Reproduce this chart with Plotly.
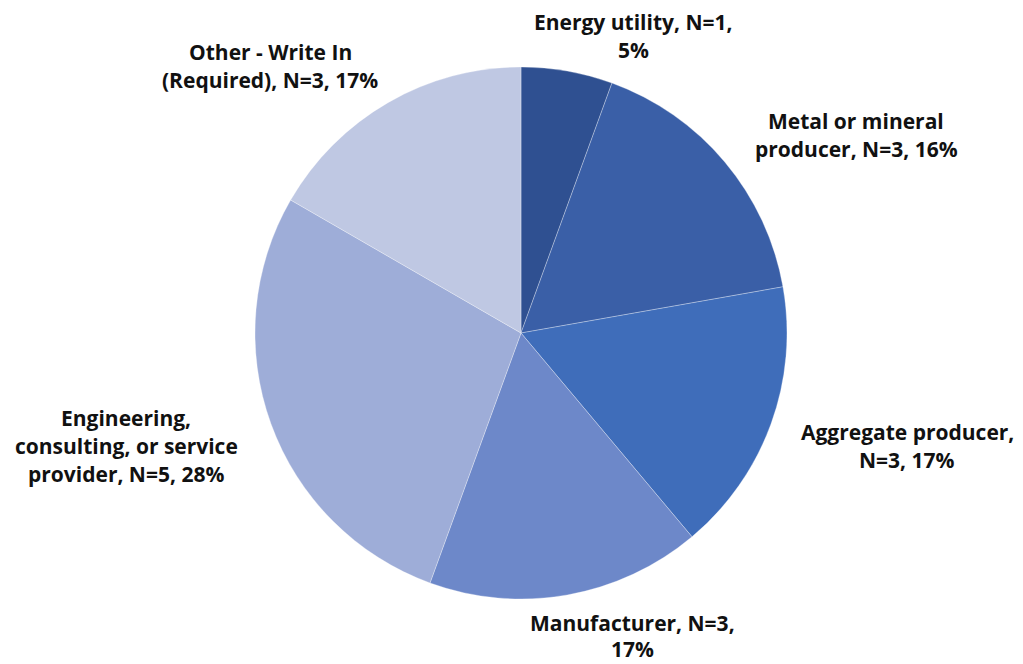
import plotly.graph_objects as go

# Survey respondents by organisation type
categories = ["Energy utility", "Metal or mineral producer", "Aggregate producer",
              "Manufacturer", "Engineering, consulting, or service provider",
              "Other - Write In (Required)"]
counts = [1, 3, 3, 3, 5, 3]
pct_labels = ["5%", "16%", "17%", "17%", "28%", "17%"]
label_lines = [["Energy utility, N=1,", "5%"],
               ["Metal or mineral", "producer, N=3, 16%"],
               ["Aggregate producer,", "N=3, 17%"],
               ["Manufacturer, N=3,", "17%"],
               ["Engineering,", "consulting, or service", "provider, N=5, 28%"],
               ["Other - Write In", "(Required), N=3, 17%"]]
colors = ["#2F5091", "#3A5FA7", "#3F6DBA", "#6D88C9", "#9EADD8", "#BFC8E3"]

W, H = 1023, 664
OFF = 8  # page body margin
cx, cy, r = 521 - OFF, 333 - OFF, 266
# label positions in pixels (x centre, y of first line, line gap)
label_pos = [(633, 22, 28), (856, 121, 28), (907, 432, 28),
             (632, 623, 26), (126, 418, 28), (270, 52, 28)]

fig = go.Figure()
fig.add_trace(go.Pie(
    labels=categories,
    values=counts,
    sort=False,
    direction="clockwise",
    rotation=0,
    textinfo="none",
    hoverinfo="label+value+percent",
    marker=dict(colors=colors, line=dict(color="rgba(255,255,255,0.5)", width=0.6)),
    domain=dict(x=[(cx - r) / W, (cx + r) / W],
                y=[1 - (cy + r) / H, 1 - (cy - r) / H]),
    showlegend=False,
))

for lines, (px_, py_, gap) in zip(label_lines, label_pos):
    for i, ln in enumerate(lines):
        fig.add_annotation(
            x=(px_ - OFF) / W, y=1 - (py_ - OFF + i * gap) / H,
            xref="paper", yref="paper",
            text="<b>" + ln + "</b>", showarrow=False,
            xanchor="center", yanchor="middle", align="center",
            font=dict(family="Open Sans, DejaVu Sans, sans-serif", size=21, color="#111111"),
        )

fig.update_layout(
    width=W, height=H,
    margin=dict(l=0, r=0, t=0, b=0),
    paper_bgcolor="white",
    plot_bgcolor="white",
)

fig.write_html("out.html")
